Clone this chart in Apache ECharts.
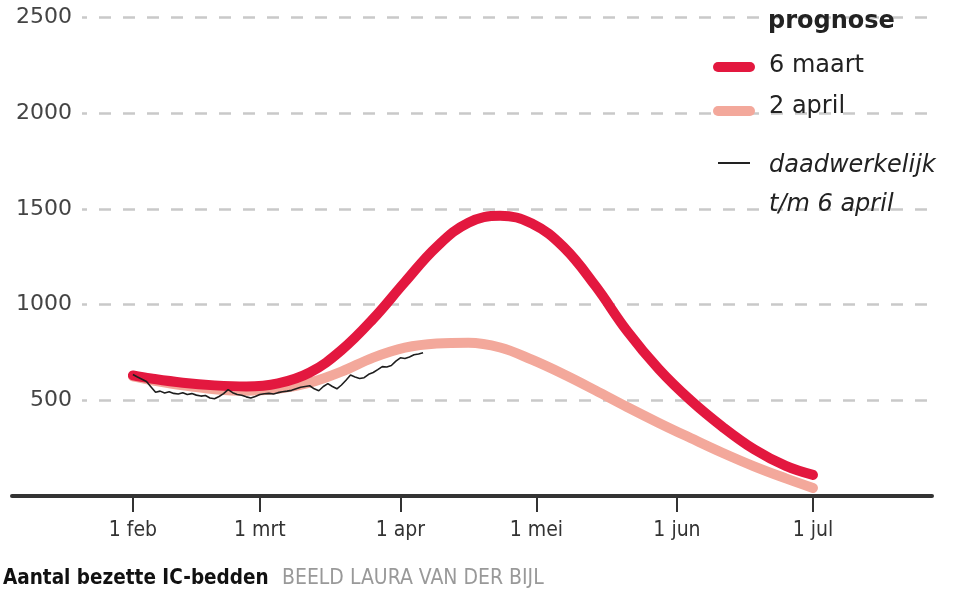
<!DOCTYPE html>
<html><head><meta charset="utf-8">
<script src="https://cdn.jsdelivr.net/npm/echarts@6/dist/echarts.min.js"></script>
<style>html,body{margin:0;padding:0;background:#fff}#c{width:969px;height:602px}</style>
</head><body><div id="c"></div>
<script>
// ---- data ----
const monthNames = ['jan','feb','mrt','apr','mei','jun','jul','aug','sep','okt','nov','dec'];
const tickDates = ['2021-02-01','2021-03-01','2021-04-01','2021-05-01','2021-06-01','2021-07-01'];
const yTicks = [0, 500, 1000, 1500, 2000, 2500];

// prognoses, read roughly weekly from the picture
const prognoseDates = ['2021-02-01','2021-02-05','2021-02-12','2021-02-19','2021-02-26','2021-03-05','2021-03-12','2021-03-19','2021-03-26','2021-04-02','2021-04-09','2021-04-16','2021-04-23','2021-04-30','2021-05-07','2021-05-14','2021-05-21','2021-05-28','2021-06-04','2021-06-11','2021-06-18','2021-06-25','2021-07-01'];
const prognose6MaartValues = [630, 614, 592, 578, 572, 588, 645, 762, 926, 1118, 1302, 1428, 1464, 1424, 1300, 1098, 862, 663, 500, 362, 244, 157, 110];
const prognose2AprilValues = [625, 606, 578, 558, 550, 560, 592, 650, 723, 775, 797, 801, 776, 712, 636, 552, 465, 382, 303, 226, 155, 92, 42];

// daily actual values from 1 feb t/m 6 april
const werkelijkStart = '2021-02-01';
const werkelijkValues = [635,622,610,598,570,542,548,538,545,536,533,540,530,535,527,522,525,512,508,520,535,556,540,530,526,518,512,520,
  530,534,536,533,540,545,548,552,560,568,572,576,560,550,572,587,572,560,580,605,632,622,614,618,636,645,660,676,674,682,705,
  722,718,726,738,742,748];

const legendTitle = 'prognose';
const legendLabels = ['6 maart', '2 april', 'daadwerkelijk', 't/m 6 april'];
const footTitle = 'Aantal bezette IC-bedden';
const footCredit = 'BEELD LAURA VAN DER BIJL';

// ---- helpers ----
function ts(s) { const p = s.split('-').map(Number); return Date.UTC(p[0], p[1] - 1, p[2]); }
function pairs(d, v) { return d.map((x, i) => [ts(x), v[i]]); }
const DAY = 86400000;
const werkelijkData = werkelijkValues.map((v, i) => [ts(werkelijkStart) + i * DAY, v]);

const RED = '#e3183f', PINK = '#f3a89b';
const xMin = Date.UTC(2021, 0, 5, 8);
const xMax = Date.UTC(2021, 6, 27, 6);
const NARROW = '"DejaVu Sans Condensed", "Liberation Sans Narrow", sans-serif';
const WIDE = '"DejaVu Sans", "Liberation Sans", sans-serif';

const chart = echarts.init(document.getElementById('c'), null, { renderer: 'canvas' });
chart.setOption({
  animation: false,
  backgroundColor: '#fff',
  grid: [
    { left: 82, right: 37, top: 17.5, bottom: 106, outerBoundsMode: 'none', containLabel: false },
    { left: 12, right: 37, top: 17.5, bottom: 106, outerBoundsMode: 'none', containLabel: false }
  ],
  xAxis: [
    { type: 'value', gridIndex: 0, min: xMin, max: xMax, show: false, splitLine: { show: false } },
    {
      type: 'value', gridIndex: 1, min: xMin, max: xMax,
      axisLine: { show: true, lineStyle: { color: '#333', width: 4 } },
      axisTick: { show: true, length: 16, lineStyle: { color: '#333', width: 2 }, customValues: tickDates.map(ts) },
      axisLabel: {
        customValues: tickDates.map(ts), margin: 24, color: '#333', fontSize: 21, fontFamily: NARROW,
        formatter: v => '1 ' + monthNames[new Date(v).getUTCMonth()]
      },
      splitLine: { show: false }
    }
  ],
  yAxis: [
    {
      type: 'value', gridIndex: 0, min: yTicks[0], max: yTicks[yTicks.length - 1], interval: yTicks[1] - yTicks[0],
      axisLine: { show: false }, axisTick: { show: false },
      axisLabel: { margin: 10, color: '#444', fontSize: 22, fontFamily: WIDE, formatter: v => v === 0 ? '' : String(v) },
      splitLine: { show: true, lineStyle: { color: '#c9c9c9', width: 2.5, type: [12, 12], dashOffset: 7 } }
    },
    { type: 'value', gridIndex: 1, min: yTicks[0], max: yTicks[yTicks.length - 1], show: false, splitLine: { show: false } }
  ],
  series: [
    { name: '2 april', type: 'line', xAxisIndex: 1, yAxisIndex: 1, data: pairs(prognoseDates, prognose2AprilValues),
      smooth: 0.4, showSymbol: false, lineStyle: { color: PINK, width: 10, cap: 'round', join: 'round' }, z: 2 },
    { name: '6 maart', type: 'line', xAxisIndex: 1, yAxisIndex: 1, data: pairs(prognoseDates, prognose6MaartValues),
      smooth: 0.4, showSymbol: false, lineStyle: { color: RED, width: 10, cap: 'round', join: 'round' }, z: 3 },
    { name: 'daadwerkelijk', type: 'line', xAxisIndex: 1, yAxisIndex: 1, data: werkelijkData,
      smooth: false, showSymbol: false, lineStyle: { color: '#1e1e1e', width: 1.6 }, z: 4 }
  ],
  graphic: [
    { type: 'text', x: 768, y: 22, z: 10, style: { text: legendTitle, font: 'bold 24px ' + WIDE, fill: '#222', verticalAlign: 'middle' } },
    { type: 'line', z: 10, shape: { x1: 718, y1: 67, x2: 750, y2: 67 }, style: { stroke: RED, lineWidth: 10, lineCap: 'round' } },
    { type: 'text', x: 769, y: 66, z: 10, style: { text: legendLabels[0], font: '24px ' + WIDE, fill: '#222', verticalAlign: 'middle' } },
    { type: 'line', z: 10, shape: { x1: 718, y1: 111, x2: 750, y2: 111 }, style: { stroke: PINK, lineWidth: 10, lineCap: 'round' } },
    { type: 'text', x: 769, y: 107, z: 10, style: { text: legendLabels[1], font: '24px ' + WIDE, fill: '#222', verticalAlign: 'middle' } },
    { type: 'line', z: 10, shape: { x1: 718, y1: 163, x2: 750, y2: 163 }, style: { stroke: '#222', lineWidth: 2 } },
    { type: 'text', x: 769, y: 166, z: 10, style: { text: legendLabels[2], font: 'italic 24px ' + WIDE, fill: '#222', verticalAlign: 'middle' } },
    { type: 'text', x: 769, y: 205, z: 10, style: { text: legendLabels[3], font: 'italic 24px ' + WIDE, fill: '#222', verticalAlign: 'middle' } },
    { type: 'text', x: 3, y: 579, z: 10, style: { text: footTitle, font: 'bold 20.5px ' + NARROW, fill: '#111', verticalAlign: 'middle' } },
    { type: 'text', x: 282, y: 579, z: 10, style: { text: footCredit, font: '21px ' + NARROW, fill: '#999', verticalAlign: 'middle' } }
  ]
});
</script></body></html>
